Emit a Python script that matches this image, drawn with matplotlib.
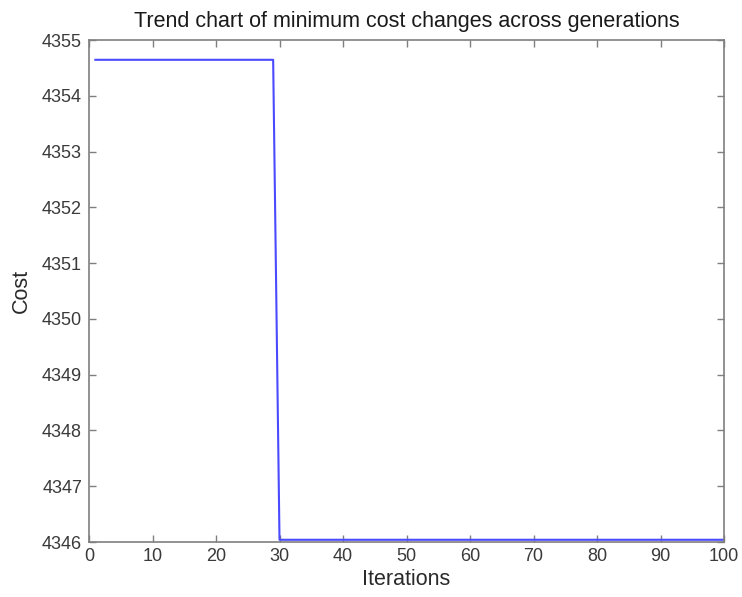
import matplotlib
matplotlib.use("Agg")
import matplotlib.pyplot as plt

# Data (step points of the minimum-cost curve)
iterations = [1, 29, 30, 100]
cost = [4354.645, 4354.645, 4346.04, 4346.04]

x_ticks = [0, 10, 20, 30, 40, 50, 60, 70, 80, 90, 100]
y_ticks = [4346, 4347, 4348, 4349, 4350, 4351, 4352, 4353, 4354, 4355]

plt.rcParams['font.family'] = ['Liberation Sans', 'DejaVu Sans']

fig = plt.figure(figsize=(7.42, 5.97), dpi=100)
ax = fig.add_axes([89/742, 1 - 542/597, (724-89)/742, (542-40)/597])

ax.plot(iterations, cost, color='#4a4aff', linewidth=1.5)

ax.set_xlim(0, 100)
ax.set_ylim(4346, 4355)
ax.set_xticks(x_ticks)
ax.set_yticks(y_ticks)
ax.set_xticklabels([str(v) for v in x_ticks])
ax.set_yticklabels([str(v) for v in y_ticks])

text_color = '#3a3a3a'
axis_color = '#7f7f7f'
for s in ax.spines.values():
    s.set_color(axis_color)
    s.set_linewidth(1.2)
ax.tick_params(direction='in', top=True, right=True, length=5, width=1,
               color=axis_color, labelcolor=text_color, labelsize=13)
ax.tick_params(axis='y', pad=5)
ax.tick_params(axis='x', pad=4)

ax.set_title('Trend chart of minimum cost changes across generations',
             fontsize=15.5, color='#1a1a1a', pad=9)
ax.set_xlabel('Iterations', fontsize=15.5, color='#2a2a2a', labelpad=3)
ax.set_ylabel('Cost', fontsize=15.5, color='#2a2a2a', labelpad=7)

fig.savefig('out.png', dpi=100, facecolor='white')
